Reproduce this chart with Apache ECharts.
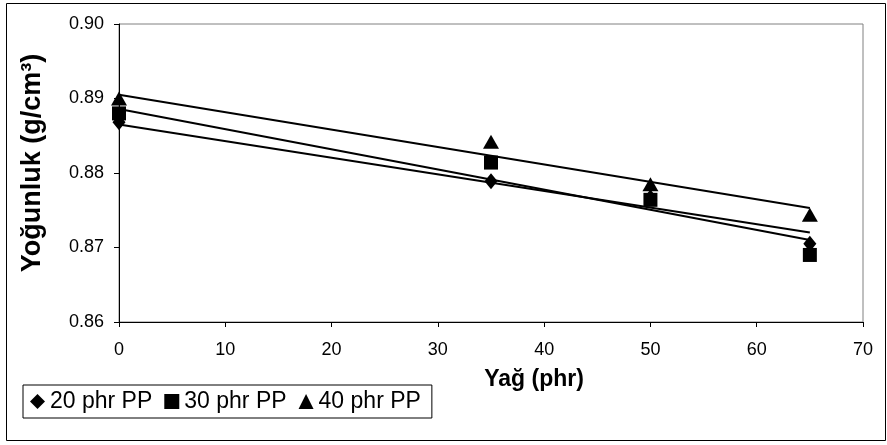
<!DOCTYPE html>
<html>
<head>
<meta charset="utf-8">
<script src="https://cdn.jsdelivr.net/npm/echarts@6/dist/echarts.min.js"></script>
<style>
html,body{margin:0;padding:0;background:#fff;}
#chart{width:887px;height:445px;}
</style>
</head>
<body>
<div id="chart"></div>
<script>
// Data
const xValues = [0, 35, 50, 65];
const pp20 = [0.8868, 0.8789, 0.8767, 0.8705];
const pp30 = [0.8880, 0.8814, 0.8764, 0.8690];
const pp40 = [0.8900, 0.8842, 0.8785, 0.8744];
// Linear trendline end values (x = 0 and x = 65)
const trendX = [0, 65];
const trend20 = [0.8865, 0.8720];
const trend30 = [0.8886, 0.8710];
const trend40 = [0.8905, 0.8753];
const seriesNames = ['20 phr PP', '30 phr PP', '40 phr PP'];
const seriesSymbols = ['diamond', 'rect', 'triangle'];
const xAxisTitle = 'Yağ (phr)';
const yAxisTitle = 'Yoğunluk (g/cm³)';
const xMin = 0, xMax = 70, xStep = 10;
const yMin = 0.86, yMax = 0.90, yStep = 0.01;

const FONT = 'Liberation Sans, Arial, sans-serif';
const pts = (ys) => xValues.map((x, i) => [x, ys[i]]);
const trend = (ys) => trendX.map((x, i) => [x, ys[i]]);
const symbolSizes = [[13, 16], 14, [16, 14]];

const chart = echarts.init(document.getElementById('chart'), null, {renderer: 'canvas'});

const trendSeries = [trend20, trend30, trend40].map((t, i) => ({
  type: 'line',
  name: 'trend' + i,
  data: trend(t),
  showSymbol: false,
  symbol: 'none',
  lineStyle: {color: '#000', width: 2},
  z: 2,
  silent: true
}));

const scatterSeries = [pp20, pp30, pp40].map((d, i) => ({
  type: 'scatter',
  name: seriesNames[i],
  data: pts(d),
  symbol: seriesSymbols[i],
  symbolSize: symbolSizes[i],
  itemStyle: {color: '#000', opacity: 1},
  z: 3 + i
}));

chart.setOption({
  animation: false,
  backgroundColor: '#fff',
  textStyle: {fontFamily: FONT, color: '#000'},
  grid: {
    left: 119, right: 24, top: 24, bottom: 123,
    show: true, borderColor: '#808080', borderWidth: 1, backgroundColor: 'transparent'
  },
  legend: {
    data: seriesNames.map((n, i) => ({name: n, icon: seriesSymbols[i]})),
    left: 23, top: 385,
    orient: 'horizontal',
    itemWidth: 15, itemHeight: 15, itemGap: 12,
    padding: [5, 11, 5, 7],
    borderColor: '#000', borderWidth: 1,
    textStyle: {fontFamily: FONT, fontSize: 23, color: '#000'},
    itemStyle: {color: '#000'},
    selectedMode: false
  },
  xAxis: {
    type: 'value',
    min: xMin, max: xMax, interval: xStep,
    name: xAxisTitle,
    nameLocation: 'middle',
    nameGap: 46,
    nameTextStyle: {fontFamily: FONT, fontSize: 23, fontWeight: 'bold', color: '#000', padding: [0, 0, 0, 86]},
    axisLine: {show: true, onZero: false, lineStyle: {color: '#000', width: 1}},
    axisTick: {show: true, inside: false, length: 5, lineStyle: {color: '#000'}},
    axisLabel: {fontFamily: FONT, fontSize: 18, color: '#000', margin: 19},
    splitLine: {show: false}
  },
  yAxis: {
    type: 'value',
    min: yMin, max: yMax, interval: yStep,
    name: yAxisTitle,
    nameLocation: 'middle',
    nameGap: 73,
    nameRotate: 90,
    nameTextStyle: {fontFamily: FONT, fontSize: 27, fontWeight: 'bold', color: '#000', padding: [0, 0, 0, 20]},
    axisLine: {show: true, onZero: false, lineStyle: {color: '#000', width: 1}},
    axisTick: {show: true, inside: false, length: 5, lineStyle: {color: '#000'}},
    axisLabel: {fontFamily: FONT, fontSize: 18, color: '#000', margin: 15, formatter: (v) => v.toFixed(2)},
    splitLine: {show: false}
  },
  graphic: [{
    type: 'rect',
    shape: {x: 6.5, y: 3.5, width: 879, height: 437},
    style: {fill: 'none', stroke: '#000', lineWidth: 1},
    silent: true,
    z: -1
  }],
  series: trendSeries.concat(scatterSeries)
});
</script>
</body>
</html>
